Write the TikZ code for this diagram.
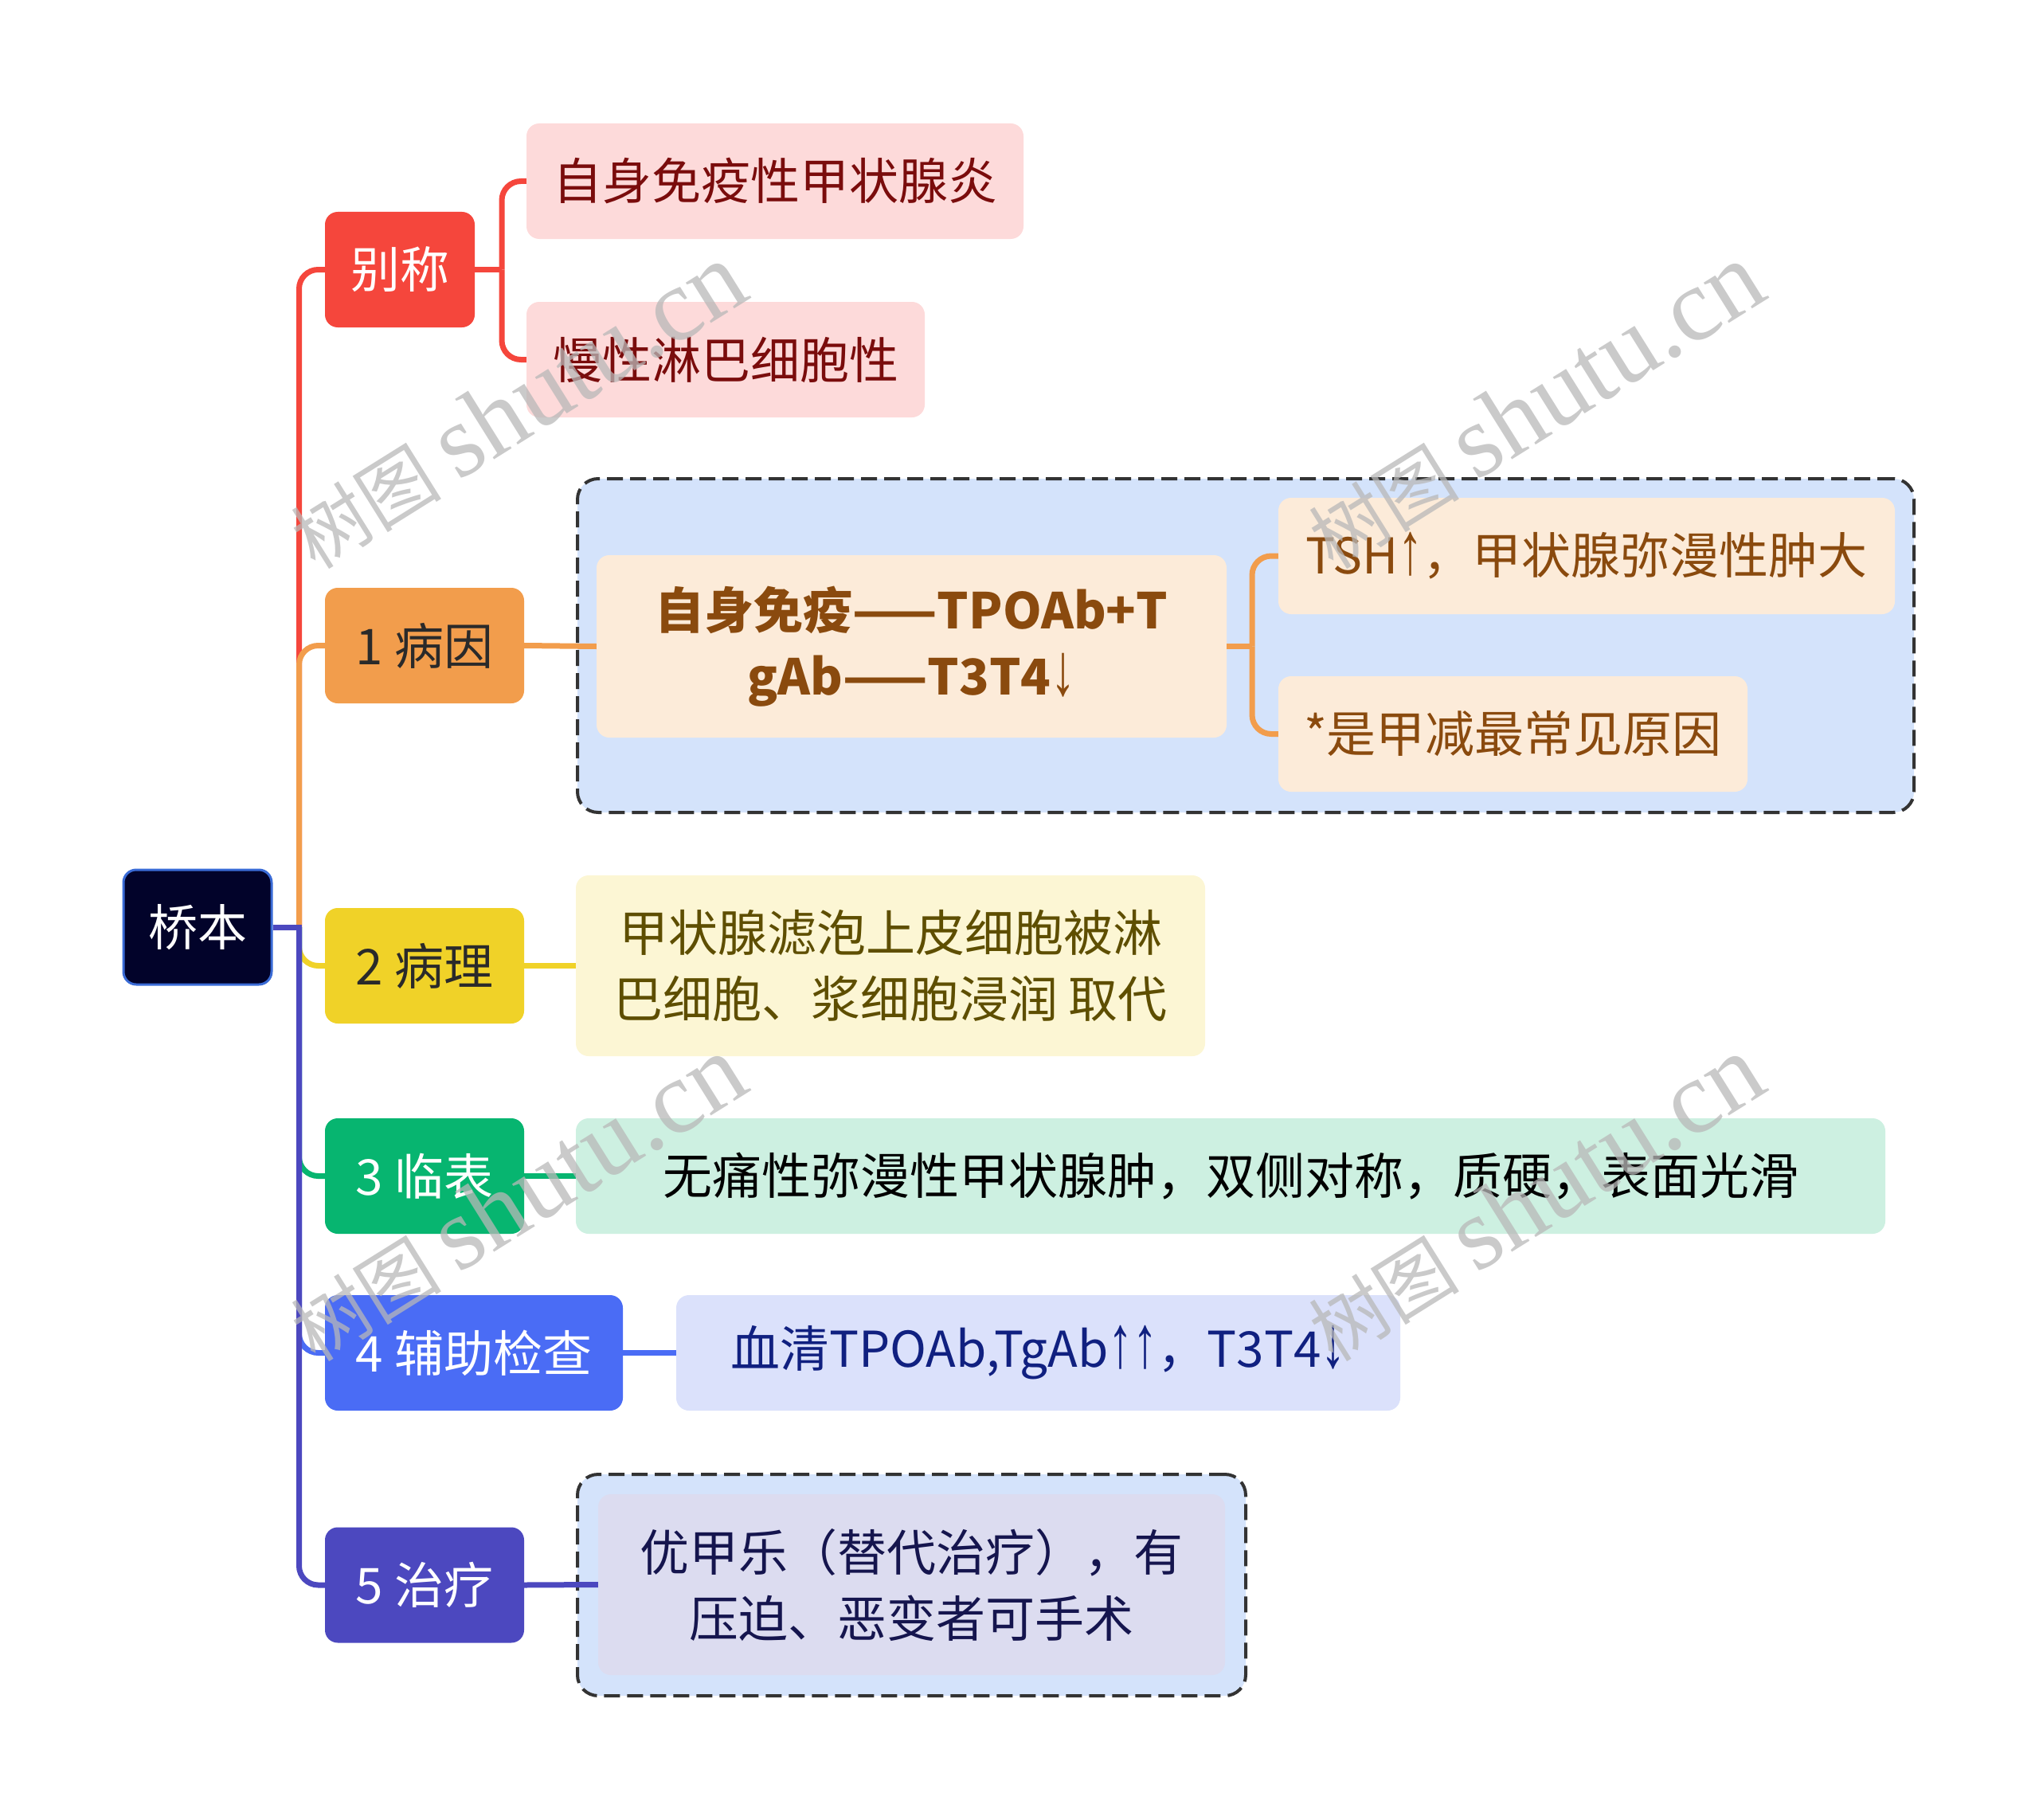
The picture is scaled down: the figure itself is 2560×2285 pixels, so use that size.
\documentclass[tikz,border=0pt]{standalone}
\usepackage{fontspec}
\usepackage{graphicx}
\setmainfont{Noto Sans CJK SC}
\newfontfamily\wmlatin{Liberation Serif}
\newfontfamily\arrowfont{Liberation Sans}
\newcommand\upar{\scalebox{1}[1.5]{\arrowfont ↑}}
\newcommand\dnar{\scalebox{1}[1.5]{\arrowfont ↓}}
\definecolor{rootfill}{HTML}{02032A}
\definecolor{rootline}{HTML}{3A6BD6}
\definecolor{cred}{HTML}{F5463C}
\definecolor{corange}{HTML}{F29D4C}
\definecolor{cyellow}{HTML}{F0D228}
\definecolor{cgreen}{HTML}{07B570}
\definecolor{cblue}{HTML}{4A6CF5}
\definecolor{cpurple}{HTML}{4C48BF}
\definecolor{fred}{HTML}{FDDADA}
\definecolor{tred}{HTML}{7A0C0C}
\definecolor{forange}{HTML}{FCEBD9}
\definecolor{torange}{HTML}{8A4A0E}
\definecolor{fyellow}{HTML}{FCF6D4}
\definecolor{tyellow}{HTML}{5E4E00}
\definecolor{fgreen}{HTML}{CDF0E1}
\definecolor{fblue}{HTML}{DBE1FB}
\definecolor{tblue}{HTML}{102080}
\definecolor{fpurple}{HTML}{DCDCF0}
\definecolor{tpurple}{HTML}{15154E}
\definecolor{boxfill}{HTML}{D4E3FB}
\definecolor{boxline}{HTML}{333333}
\definecolor{darktext}{HTML}{2A2A2A}
\definecolor{wmgray}{HTML}{B8B8B8}
\newcommand\fsz{\fontsize{62}{83}\selectfont}
\tikzset{
  x=1pt, y=-1pt,
  topic/.style={rounded corners=16pt, inner sep=0pt, minimum height=145pt, font=\fsz, align=center},
  sub/.style={rounded corners=16pt, inner sep=0pt, font=\fsz, align=center},
  groupbox/.style={rounded corners=26pt, fill=boxfill, draw=boxline, line width=4pt, dash pattern=on 20pt off 9pt},
  conn/.style={line width=7pt, rounded corners=24pt},
  wm/.style={rotate=32, text=wmgray, opacity=0.75, inner sep=0pt}
}
\begin{document}
\begin{tikzpicture}
\useasboundingbox (0,0) rectangle (2560,2285);
% group boxes
\node[groupbox, minimum width=1678pt, minimum height=419pt] (box1) at (1564,810.5) {};
\node[groupbox, minimum width=839pt, minimum height=278pt] (box2) at (1144.5,1990) {};
% root
\node[topic, fill=rootfill, draw=rootline, line width=3pt, text=white, minimum width=186pt, minimum height=144pt] (root) at (248,1164) {桥本};
% level 1
\node[topic, fill=cred, text=white, minimum width=188pt] (bc) at (502,338.5) {别称};
\node[topic, fill=corange, text=darktext, minimum width=250pt] (by) at (533,810.5) {1 病因};
\node[topic, fill=cyellow, text=darktext, minimum width=250pt] (bl) at (533,1212.5) {2 病理};
\node[topic, fill=cgreen, text=white, minimum width=250pt] (lb) at (533,1476.5) {3 临表};
\node[topic, fill=cblue, text=white, minimum width=374pt] (fz) at (595,1698.5) {4 辅助检查};
\node[topic, fill=cpurple, text=white, minimum width=250pt] (zl) at (533,1990) {5 治疗};
% level 2
\node[sub, fill=fred, text=tred, minimum width=624pt, minimum height=145pt] (a1) at (973,227.5) {自身免疫性甲状腺炎};
\node[sub, fill=fred, text=tred, minimum width=500pt, minimum height=145pt] (a2) at (911,451.5) {慢性淋巴细胞性};
\node[sub, fill=forange, text=torange, font=\fsz\bfseries, minimum width=791pt, minimum height=229pt] (b1) at (1144.5,811.5) {自身免疫——TPOAb+T\\gAb——T3T4\dnar};
\node[sub, fill=forange, text=torange, minimum width=774pt, minimum height=146pt] (b2) at (1992,698) {TSH\upar，甲状腺弥漫性肿大};
\node[sub, fill=forange, text=torange, minimum width=589pt, minimum height=145pt] (b3) at (1899.5,921.5) {*是甲减最常见原因};
\node[sub, fill=fyellow, text=tyellow, minimum width=790pt, minimum height=227pt] (c1) at (1118,1212.5) {甲状腺滤泡上皮细胞被淋\\巴细胞、浆细胞浸润 取代};
\node[sub, fill=fgreen, text=black, minimum width=1644pt, minimum height=145pt] (d1) at (1545,1476.5) {无痛性弥漫性甲状腺肿，双侧对称，质硬，表面光滑};
\node[sub, fill=fblue, text=tblue, minimum width=909pt, minimum height=145pt] (e1) at (1303.5,1698.5) {血清TPOAb,TgAb\upar\upar，T3T4\dnar};
\node[sub, fill=fpurple, text=tpurple, minimum width=787pt, minimum height=227pt] (f1) at (1144.5,1989.5) {优甲乐（替代治疗），有\\压迫、恶变者可手术};
% trunk connectors
\coordinate (hub) at (375.5,1164);
\draw[conn, cred] (hub) |- (bc.west);
\draw[conn, corange] (hub) |- (by.west);
\draw[conn, cyellow] (hub) |- (bl.west);
\draw[conn, cgreen] (hub) |- (lb.west);
\draw[conn, cblue] (hub) |- (fz.west);
\draw[conn, cpurple] (hub) |- (zl.west);
\draw[line width=7pt, cpurple] (root.east) -- ([xshift=3.5pt]hub);
% level-1 to level-2
\coordinate (hubA) at (630,338.5);
\draw[line width=7pt, cred] (bc.east) -- (hubA);
\draw[conn, cred] (hubA) |- (a1.west);
\draw[conn, cred] (hubA) |- (a2.west);
\draw[line width=7pt, corange] (by.east) -- (b1.west);
\coordinate (hubB) at (1572,811.5);
\draw[line width=7pt, corange] (b1.east) -- (hubB);
\draw[conn, corange] (hubB) |- (b2.west);
\draw[conn, corange] (hubB) |- (b3.west);
\draw[line width=7pt, cyellow] (bl.east) -- (c1.west);
\draw[line width=7pt, cgreen] (lb.east) -- (d1.west);
\draw[line width=7pt, cblue] (fz.east) -- (e1.west);
\draw[line width=7pt, cpurple] (zl.east) -- (f1.west);
% watermarks
\node[wm] (wm1) at (649,510) {\fontsize{95}{95}\selectfont 树图 {\wmlatin\fontsize{130}{130}\selectfont shutu.cn}};
\node[wm] (wm2) at (1927,510) {\fontsize{95}{95}\selectfont 树图 {\wmlatin\fontsize{130}{130}\selectfont shutu.cn}};
\node[wm] (wm3) at (649,1505) {\fontsize{95}{95}\selectfont 树图 {\wmlatin\fontsize{130}{130}\selectfont shutu.cn}};
\node[wm] (wm4) at (1927,1505) {\fontsize{95}{95}\selectfont 树图 {\wmlatin\fontsize{130}{130}\selectfont shutu.cn}};
\end{tikzpicture}
\end{document}
